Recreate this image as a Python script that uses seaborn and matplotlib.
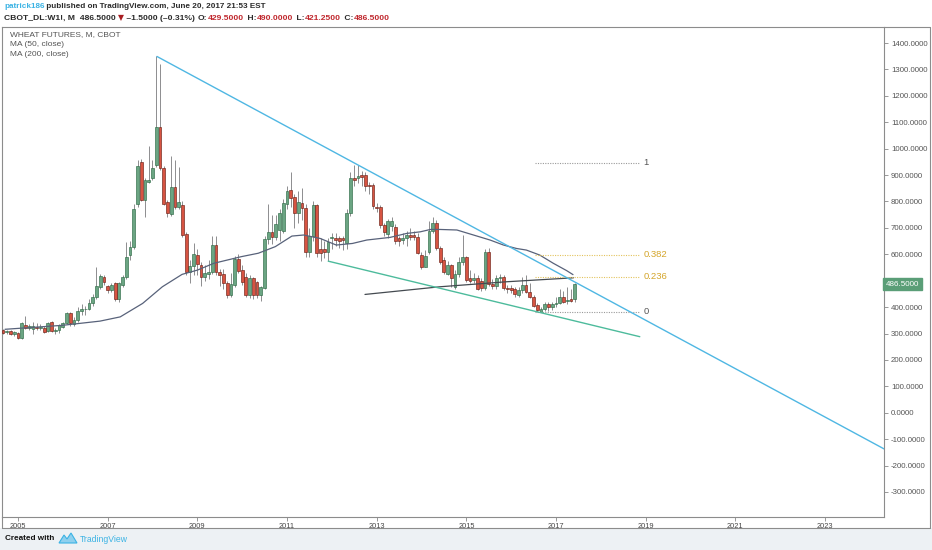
import matplotlib
matplotlib.use('Agg')
import matplotlib.pyplot as plt
import seaborn as sns
import numpy as np
import pandas as pd
from matplotlib.patches import Rectangle, Polygon
from matplotlib.lines import Line2D

# ---------------- data ----------------
first_month = '2004-09'
last_month = '2017-06'

opens = [315, 306, 309, 297, 302, 284, 332, 320, 317, 326, 322, 322, 310, 343, 311, 312,
         326, 340, 378, 337, 352, 385, 391, 392, 414, 440, 475, 514, 479, 464, 490, 432,
         482, 514, 596, 628, 792, 951, 805, 875, 888, 939, 1082, 926, 798, 754, 856, 780,
         786, 678, 532, 557, 599, 561, 515, 524, 533, 635, 533, 524, 491, 444, 484, 581,
         540, 515, 444, 509, 494, 447, 474, 657, 683, 665, 691, 689, 789, 844, 818, 755,
         795, 777, 609, 670, 787, 621, 621, 610, 660, 663, 660, 660, 641, 755, 888, 888,
         901, 901, 863, 863, 778, 778, 711, 677, 707, 705, 660, 654, 660, 673, 673, 666,
         597, 552, 610, 689, 717, 622, 578, 525, 559, 477, 527, 572, 588, 509, 502, 509,
         500, 474, 610, 489, 479, 509, 515, 474, 474, 470, 445, 464, 483, 458, 439, 407,
         381, 394, 410, 399, 410, 415, 439, 423, 432, 429.5]
highs = [318, 314, 312, 308, 305, 345, 365, 335, 343, 338, 335, 330, 345, 348, 320, 336,
         345, 380, 382, 362, 400, 410, 405, 430, 450, 552, 525, 520, 485, 490, 495, 495,
         520, 647, 650, 790, 958, 960, 890, 1009, 958, 1349, 1319, 935, 805, 971, 958, 930,
         800, 685, 580, 641, 620, 570, 560, 580, 669, 670, 545, 545, 500, 530, 595, 600,
         560, 530, 520, 515, 500, 480, 670, 790, 750, 750, 770, 810, 860, 912, 830, 840,
         850, 790, 700, 800, 790, 660, 650, 660, 680, 680, 670, 670, 770, 910, 939, 939,
         915, 910, 875, 870, 795, 785, 720, 735, 740, 715, 670, 680, 690, 700, 690, 680,
         610, 615, 725, 740, 730, 630, 590, 575, 565, 540, 590, 673, 595, 540, 530, 520,
         510, 620, 625, 505, 520, 525, 520, 485, 485, 475, 475, 515, 521, 490, 445, 415,
         400, 420, 420, 420, 440, 470, 460, 477, 470, 490]
lows = [298, 300, 293, 292, 280, 280, 318, 312, 300, 312, 315, 302, 305, 305, 300, 302,
        320, 335, 330, 330, 345, 372, 370, 388, 405, 432, 470, 485, 455, 458, 425, 420,
        475, 505, 580, 620, 780, 800, 743, 870, 880, 930, 920, 785, 740, 745, 770, 770,
        665, 520, 490, 520, 520, 480, 500, 505, 525, 520, 480, 470, 435, 438, 478, 530,
        485, 440, 435, 430, 435, 425, 470, 640, 640, 655, 650, 680, 770, 780, 700, 720,
        730, 590, 590, 650, 590, 575, 585, 575, 620, 630, 625, 615, 620, 745, 860, 870,
        860, 840, 830, 770, 760, 700, 670, 660, 690, 640, 630, 640, 630, 655, 655, 600,
        545, 550, 600, 680, 615, 565, 525, 520, 475, 470, 515, 560, 495, 490, 490, 465,
        460, 465, 480, 470, 470, 490, 465, 455, 455, 440, 440, 455, 455, 435, 400, 383,
        380, 385, 385, 390, 400, 410, 415, 410, 420, 421.25]
closes = [302, 310, 297, 304, 284, 340, 322, 327, 330, 322, 326, 307, 340, 311, 315, 331,
          340, 376, 338, 352, 385, 391, 394, 416, 439, 479, 517, 496, 464, 482, 432, 490,
          514, 590, 628, 770, 935, 805, 881, 881, 926, 1082, 926, 792, 757, 856, 780, 798,
          672, 532, 557, 602, 564, 515, 530, 533, 635, 533, 521, 491, 444, 489, 581, 538,
          496, 444, 509, 444, 447, 475, 657, 683, 665, 716, 757, 795, 840, 814, 755, 799,
          777, 609, 670, 787, 603, 605, 609, 647, 666, 654, 651, 654, 755, 888, 882, 897,
          892, 857, 857, 781, 774, 711, 686, 727, 727, 651, 651, 660, 673, 666, 666, 603,
          552, 593, 689, 717, 622, 572, 534, 559, 509, 527, 572, 588, 502, 500, 509, 470,
          474, 610, 489, 479, 509, 515, 474, 470, 464, 449, 464, 483, 458, 439, 403, 388,
          394, 410, 399, 410, 415, 439, 419, 426, 423, 486.5]

# moving averages (fractional year, price)
ma50_x = [2004.71, 2005.99, 2006.83, 2007.28, 2007.78, 2008.22, 2008.66, 2009.00, 2009.37,
          2009.98, 2010.36, 2010.74, 2011.11, 2011.37, 2011.74, 2012.10, 2012.46, 2012.78,
          2013.30, 2013.67, 2013.97, 2014.20, 2014.42, 2014.79, 2015.16, 2015.53, 2015.83,
          2016.12, 2016.34, 2016.64, 2016.94, 2017.24, 2017.38]
ma50_y = [316, 331, 347, 363, 414, 477, 524, 540, 566, 591, 604, 629, 669, 673, 660, 635,
          641, 654, 664, 679, 685, 694, 694, 692, 673, 654, 635, 622, 616, 597, 566, 538, 523]
ma200_x = [2012.74, 2014.41, 2015.90, 2017.39]
ma200_y = [448, 477, 496, 511]

# drawn trend lines
upper_tl_x = [2008.10, 2024.32]
upper_tl_y = [1349, -137]
lower_tl_x = [2011.92, 2018.87]
lower_tl_y = [574, 288]

# fibonacci retracement
fib_low, fib_high = 381.5, 947.0
fib_levels = [1, 0.382, 0.236, 0]
fib_labels = ['1', '0.382', '0.236', '0']
fib_x = [2016.53, 2018.87]

y_ticks = list(range(-300, 1500, 100))
x_tick_years = [2005, 2007, 2009, 2011, 2013, 2015, 2017, 2019, 2021, 2023]
last_price = 486.5

# ---------------- figure ----------------
sns.set_theme(style='white')
plt.rcParams['font.family'] = ['Liberation Sans', 'DejaVu Sans']
FONT = ['Liberation Sans', 'DejaVu Sans']

W, H = 932, 550
fig = plt.figure(figsize=(W / 100, H / 100), dpi=100)
fig.patch.set_facecolor('white')


def fx(px):
    return px / W


def fy(py):
    return 1 - py / H


# bottom banner
fig.patches.append(Rectangle((0, 0), 1, fy(528), transform=fig.transFigure,
                             facecolor='#edf1f4', edgecolor='none', zorder=0))

ax = fig.add_axes([fx(2), fy(517), (884 - 2) / W, (517 - 27) / H])
ax.set_facecolor('white')

periods = pd.period_range(first_month, last_month, freq='M')
t = np.array([p.year + (p.month - 1) / 12 for p in periods])
O = np.array(opens, float)
Hh = np.array(highs, float)
L = np.array(lows, float)
C = np.array(closes, float)
up = C >= O

ax.vlines(t, L, Hh, color='#8d8d8f', lw=0.7, zorder=2)
body = C - O
ax.bar(t[up], body[up], bottom=O[up], width=0.062, color='#6ba583',
       edgecolor='#2f6b47', linewidth=0.45, zorder=3)
ax.bar(t[~up], body[~up], bottom=O[~up], width=0.062, color='#d75442',
       edgecolor='#6e2218', linewidth=0.45, zorder=3)

ma_df = pd.DataFrame({'x': ma50_x, 'y': ma50_y})
sns.lineplot(data=ma_df, x='x', y='y', ax=ax, color='#58627a', lw=0.9, zorder=4)
ma2_df = pd.DataFrame({'x': ma200_x, 'y': ma200_y})
sns.lineplot(data=ma2_df, x='x', y='y', ax=ax, color='#444a50', lw=0.9, zorder=4)

ax.plot(upper_tl_x, upper_tl_y, color='#4fb7e3', lw=1.0, zorder=5)
ax.plot(lower_tl_x, lower_tl_y, color='#4dbb9c', lw=1.0, zorder=5)

for lev, lab in zip(fib_levels, fib_labels):
    price = fib_low + lev * (fib_high - fib_low)
    gold = lev not in (0, 1)
    lc = '#e3c35c' if gold else '#9a9a9a'
    tc = '#d4a52a' if gold else '#555555'
    ax.plot(fib_x, [price, price], color=lc, lw=0.8, ls=(0, (1, 1.2)), zorder=4)
    ax.text(fib_x[1] + 0.08, price, lab, color=tc, fontsize=6.8, va='center', ha='left',
            zorder=6)

x_left = 2005 + (2 - 18) / 44.83
x_right = 2005 + (884 - 18) / 44.83
ax.set_xlim(x_left, x_right)
ax.set_ylim(-394.7, 1460.6)
ax.set_xlabel('')
ax.set_ylabel('')

ax.yaxis.tick_right()
ax.set_yticks(y_ticks)
ax.set_yticklabels(['' if v == 500 else f'{v:.4f}' for v in y_ticks])
ax.set_xticks(x_tick_years)
ax.set_xticklabels([str(v) for v in x_tick_years])
ax.tick_params(axis='y', which='both', right=True, length=3, width=0.6, color='#888888',
               labelsize=5.7, labelcolor='#555555', pad=2)
ax.tick_params(axis='x', which='both', bottom=True, length=3, width=0.6, color='#888888',
               labelsize=5.3, labelcolor='#444444', pad=1)
for s in ax.spines.values():
    s.set_color('#8c8c8c')
    s.set_linewidth(0.8)

# last price label
ax.text(1.002, last_price, f'{last_price:.4f}', transform=ax.get_yaxis_transform(),
        fontsize=5.8, color='white', va='center', ha='left', zorder=10, clip_on=False,
        bbox=dict(boxstyle='square,pad=0.3', facecolor='#5a9e77', edgecolor='#5a9e77'))

# outer frame (axis strips)
frame_col = '#8c8c8c'
fig.lines.append(Line2D([fx(930), fx(930)], [fy(27), fy(528)], transform=fig.transFigure,
                        color=frame_col, lw=0.8))
fig.lines.append(Line2D([fx(2), fx(930)], [fy(528), fy(528)], transform=fig.transFigure,
                        color=frame_col, lw=0.8))
fig.lines.append(Line2D([fx(884), fx(930)], [fy(27), fy(27)], transform=fig.transFigure,
                        color=frame_col, lw=0.8))
fig.lines.append(Line2D([fx(2), fx(2)], [fy(517), fy(528)], transform=fig.transFigure,
                        color=frame_col, lw=0.8))

# legend texts inside chart
for txt, py in [('WHEAT FUTURES, M, CBOT', 35), ('MA (50, close)', 45), ('MA (200, close)', 55)]:
    fig.text(fx(10), fy(py), txt, fontsize=6.0, color='#555555', va='center', ha='left')

# header text in coloured segments
fig.canvas.draw()
renderer = fig.canvas.get_renderer()


def draw_segments(x_px, y_px, segments, size, weight, family=FONT, gap=0.0):
    x = x_px
    for txt, col in segments:
        tt = fig.text(fx(x), fy(y_px), txt, color=col, fontsize=size, ha='left', va='center',
                      fontweight=weight, family=family)
        bb = tt.get_window_extent(renderer)
        x += bb.width + gap
    return x


red = '#c0282e'
dark = '#2b2b2b'
draw_segments(4, 7, [('patrick186', '#3bb3e4'),
                     (' published on TradingView.com, June 20, 2017 21:53 EST', dark)], 5.9, 'bold')
xw = draw_segments(4, 18, [('CBOT_DL:W1!, M  486.5000 ', dark)], 6.1, 'bold')
xw = draw_segments(xw, 18, [('\u25bc', '#a81d22')], 5.6, 'normal', family=['DejaVu Sans'])
xw = draw_segments(xw, 18, [(' \u20131.5000 (\u20130.31%)', dark)], 6.1, 'bold')
draw_segments(xw + 3, 18, [('O:', dark), ('429.5000', red), (' H:', dark), ('490.0000', red),
                           (' L:', dark), ('421.2500', red), (' C:', dark), ('486.5000', red)],
              6.1, 'bold', gap=0.6)

# footer
fig.text(fx(5), fy(539), 'Created with', fontsize=5.9, fontweight='bold', color='#111111',
         va='center', ha='left')
logo = Polygon([(fx(59), fy(543)), (fx(64), fy(535)), (fx(67), fy(539)), (fx(71), fy(533)),
                (fx(77), fy(543))], closed=True, transform=fig.transFigure,
               facecolor='#8fd0ee', edgecolor='#3bb3e4', lw=0.8)
fig.patches.append(logo)
fig.text(fx(80), fy(539), 'TradingView', fontsize=6.2, color='#3bb3e4', va='center',
         ha='left')

fig.savefig('out.png', dpi=100)
